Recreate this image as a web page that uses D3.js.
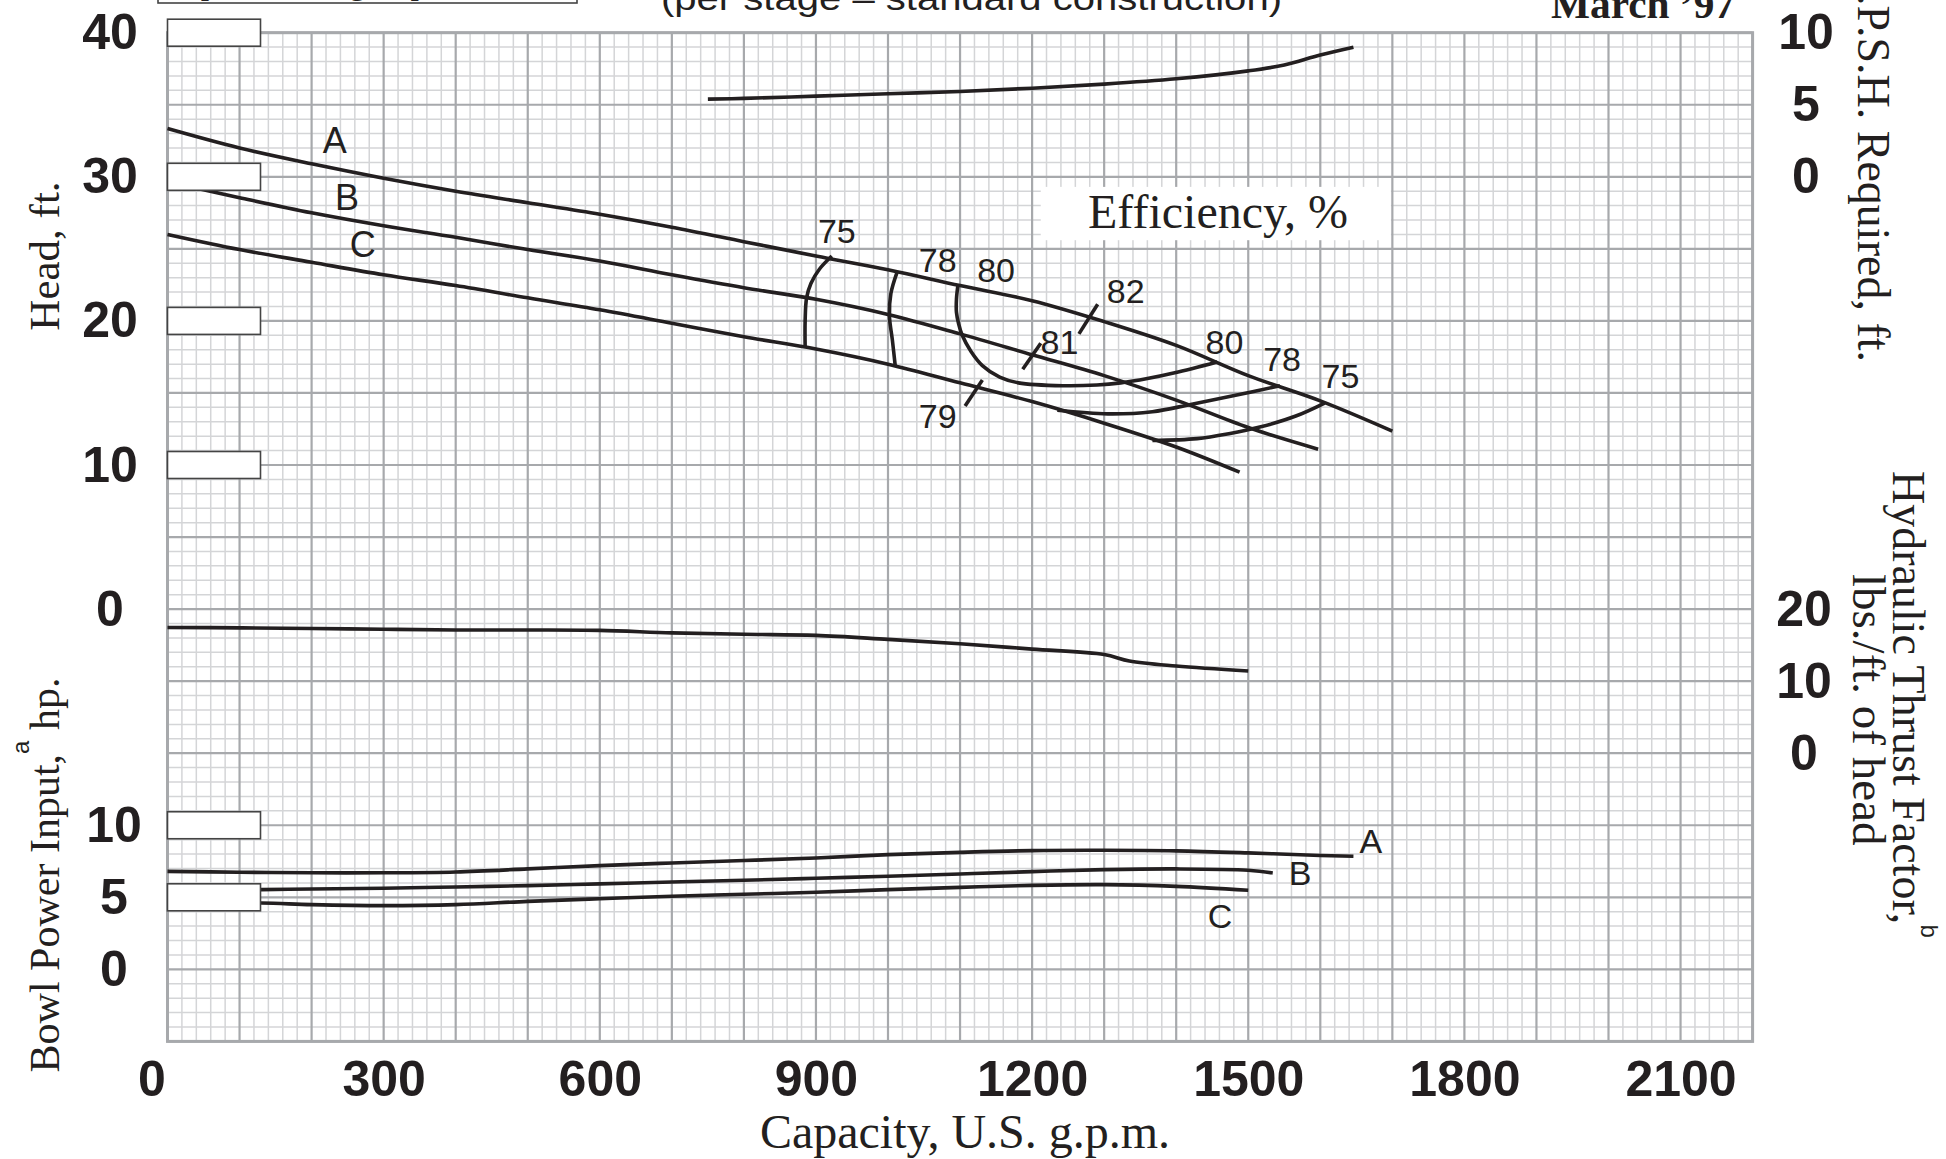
<!DOCTYPE html>
<html>
<head>
<meta charset="utf-8">
<script src="https://cdn.jsdelivr.net/npm/d3@7"></script>
<style>
body { margin: 0; background: #fff; }
svg { display: block; }
</style>
</head>
<body>
<svg id="chart" width="1946" height="1159"></svg>
<script>
// ticks
const capacityTicks = [0, 300, 600, 900, 1200, 1500, 1800, 2100];
const headTicks = [40, 30, 20, 10, 0];
const powerTicks = [10, 5, 0];
const npshTicks = [10, 5, 0];
const thrustTicks = [20, 10, 0];

// head curves [gpm, ft]
const headA = [[0, 33.35], [100, 32.0], [200, 30.9], [300, 29.9], [400, 29.0], [500, 28.2], [600, 27.4], [700, 26.5],
    [800, 25.5], [900, 24.5], [1000, 23.55], [1100, 22.45], [1200, 21.4], [1300, 19.95], [1400, 18.3], [1500, 16.2],
    [1600, 14.45], [1700, 12.35]];
const headB = [[0, 29.65], [100, 28.55], [200, 27.5], [300, 26.6], [400, 25.8], [500, 24.95], [600, 24.15], [700, 23.2],
    [800, 22.3], [900, 21.5], [1000, 20.45], [1100, 19.1], [1200, 17.65], [1300, 16.2], [1400, 14.5], [1500, 12.6],
    [1597, 11.1]];
const headC = [[0, 26.0], [100, 24.95], [200, 24.07], [300, 23.2], [400, 22.45], [500, 21.6], [600, 20.77], [700, 19.84],
    [800, 18.9], [900, 18.05], [1000, 17.0], [1100, 15.7], [1200, 14.4], [1300, 12.9], [1400, 11.25], [1488, 9.5]];

// N.P.S.H. required [gpm, ft]
const npsh = [[750, 5.39], [800, 5.44], [900, 5.6], [1000, 5.76], [1100, 5.92], [1200, 6.15], [1300, 6.43],
    [1400, 6.8], [1500, 7.35], [1550, 7.76], [1600, 8.45], [1646, 8.99]];

// hydraulic thrust factor [gpm, lbs/ft]
const thrust = [[0, 17.45], [100, 17.4], [200, 17.3], [300, 17.2], [400, 17.1], [500, 17.1], [600, 17.05],
    [700, 16.7], [800, 16.5], [900, 16.35], [1000, 15.8], [1100, 15.2], [1200, 14.45], [1300, 13.7],
    [1335, 12.8], [1400, 12.1], [1500, 11.4]];

// bowl power input [gpm, hp]
const powerA = [[0, 6.8], [100, 6.74], [200, 6.7], [300, 6.7], [400, 6.76], [500, 6.97], [600, 7.2], [700, 7.38],
    [800, 7.55], [900, 7.73], [1000, 7.96], [1100, 8.12], [1200, 8.24], [1300, 8.26], [1400, 8.22], [1500, 8.08],
    [1600, 7.9], [1646, 7.85]];
const powerB = [[0, 5.5], [130, 5.53], [200, 5.58], [300, 5.63], [400, 5.72], [500, 5.81], [600, 5.93], [700, 6.06],
    [800, 6.18], [900, 6.32], [1000, 6.46], [1100, 6.62], [1200, 6.78], [1300, 6.92], [1400, 6.97], [1500, 6.88],
    [1534, 6.69]];
const powerC = [[0, 4.62], [130, 4.6], [200, 4.49], [300, 4.42], [400, 4.49], [500, 4.72], [600, 4.9], [700, 5.07],
    [800, 5.21], [900, 5.35], [1000, 5.53], [1100, 5.69], [1200, 5.83], [1300, 5.88], [1400, 5.76], [1500, 5.49]];

// efficiency contours [gpm, ft of head]
const eff75L = [[922, 24.5], [905, 23.6], [893, 22.6], [887, 21.6], [885, 20.0], [885, 18.2]];
const eff78L = [[1013, 23.44], [1004, 21.9], [1002, 20.33], [1006, 18.7], [1010, 16.9]];
const eff80 = [[1097, 22.45], [1095, 21.5], [1095, 20.6], [1098, 19.8], [1103, 19.0], [1115, 17.9], [1131, 16.9],
    [1155, 16.1], [1181, 15.7], [1243, 15.5], [1290, 15.55], [1323, 15.7], [1360, 16.0], [1398, 16.4], [1457, 17.15]];
const eff78R = [[1235, 13.8], [1305, 13.55], [1367, 13.7], [1420, 14.2], [1479, 14.8], [1544, 15.5]];
const eff75R = [[1367, 11.7], [1429, 11.83], [1473, 12.17], [1516, 12.63], [1566, 13.4], [1606, 14.3]];
const eff82Mark = [[1291, 21.15], [1265, 19.1]];
const eff81Mark = [[1212, 18.45], [1187, 16.65]];
const eff79Mark = [[1131, 15.9], [1107, 14.1]];

// labels [text, gpm, value]
const headLabels = [["A", 232, 32.5], ["B", 249, 28.6], ["C", 271, 25.3]];
const effLabels = [["75", 929, 26.2], ["78", 1069, 24.2], ["80", 1150, 23.55], ["82", 1330, 22.05],
    ["81", 1238, 18.5], ["79", 1069, 13.4], ["80", 1467, 18.5], ["78", 1547, 17.35], ["75", 1628, 16.2]];
const powerLabels = [["A", 1670, 8.9], ["B", 1572, 6.65], ["C", 1461, 3.7]];

// blank label boxes on the left edge
const headBoxes = [40, 30, 20, 10];
const powerBoxes = [10, 5];

const ink = "#231f20";
const serif = "'Liberation Serif', 'Times New Roman', serif";
const sans = "'Liberation Sans', Arial, sans-serif";

const svg = d3.select("#chart");
svg.append("rect").attr("width", 1946).attr("height", 1159).attr("fill", "#fff");

const plotTop = 32.7, plotBottom = 1041.4;
const x = d3.scaleLinear().domain([0, 2200]).range([167.5, 1752.6]);
const yHead = d3.scaleLinear().domain([40, -30]).range([plotTop, plotBottom]);
const yNpsh = d3.scaleLinear().domain([10, -60]).range([plotTop, plotBottom]);
const yThrust = d3.scaleLinear().domain([100, -40]).range([plotTop, plotBottom]);
const yPower = d3.scaleLinear().domain([65, -5]).range([plotTop, plotBottom]);

// grid
const grid = svg.append("g").attr("class", "grid");

grid.selectAll("line.vminor")
    .data(d3.range(0, 2201, 20).filter(v => v % 100 !== 0))
    .enter().append("line")
    .attr("x1", d => x(d)).attr("x2", d => x(d))
    .attr("y1", plotTop).attr("y2", plotBottom)
    .attr("stroke", "#d4d5d7").attr("stroke-width", 1.5);

grid.selectAll("line.hminor")
    .data(d3.range(-30, 41, 1).filter(v => v % 5 !== 0))
    .enter().append("line")
    .attr("x1", x(0)).attr("x2", x(2200))
    .attr("y1", d => yHead(d)).attr("y2", d => yHead(d))
    .attr("stroke", "#d4d5d7").attr("stroke-width", 1.5);

grid.selectAll("line.vmajor")
    .data(d3.range(0, 2201, 100))
    .enter().append("line")
    .attr("x1", d => x(d)).attr("x2", d => x(d))
    .attr("y1", plotTop).attr("y2", plotBottom)
    .attr("stroke", "#a7a9ac").attr("stroke-width", 2.2);

grid.selectAll("line.hmajor")
    .data(d3.range(-30, 41, 5))
    .enter().append("line")
    .attr("x1", x(0)).attr("x2", x(2200))
    .attr("y1", d => yHead(d)).attr("y2", d => yHead(d))
    .attr("stroke", "#a7a9ac").attr("stroke-width", 2.2);

grid.append("rect")
    .attr("x", x(0)).attr("y", plotTop)
    .attr("width", x(2200) - x(0)).attr("height", plotBottom - plotTop)
    .attr("fill", "none").attr("stroke", "#a7a9ac").attr("stroke-width", 3);

// curves
function drawCurve(points, yScale, curve) {
    const line = d3.line()
        .x(d => x(d[0]))
        .y(d => yScale(d[1]))
        .curve(curve || d3.curveCatmullRom.alpha(0.5));
    svg.append("path")
        .datum(points)
        .attr("d", line)
        .attr("fill", "none")
        .attr("stroke", ink)
        .attr("stroke-width", 3.6)
        .attr("stroke-linecap", "butt");
}

[headA, headB, headC].forEach(c => drawCurve(c, yHead));
[eff75L, eff78L, eff80, eff78R, eff75R].forEach(c => drawCurve(c, yHead));
[eff82Mark, eff81Mark, eff79Mark].forEach(c => drawCurve(c, yHead, d3.curveLinear));
drawCurve(npsh, yNpsh);
drawCurve(thrust, yThrust);
[powerA, powerB, powerC].forEach(c => drawCurve(c, yPower));

// blank boxes
function drawBoxes(values, yScale) {
    svg.append("g").selectAll("rect")
        .data(values)
        .enter().append("rect")
        .attr("x", x(0))
        .attr("y", d => yScale(d) - 13.5)
        .attr("width", 93)
        .attr("height", 27)
        .attr("fill", "#fff")
        .attr("stroke", "#444")
        .attr("stroke-width", 1.6);
}
drawBoxes(headBoxes, yHead);
drawBoxes(powerBoxes, yPower);

// efficiency caption
svg.append("rect")
    .attr("x", x(1212)).attr("y", yHead(29.3))
    .attr("width", x(1698) - x(1212)).attr("height", yHead(25.6) - yHead(29.3))
    .attr("fill", "#fff");
svg.append("text")
    .attr("x", x(1458)).attr("y", yHead(26.45))
    .attr("text-anchor", "middle")
    .style("font-family", serif).style("font-size", "48px").attr("fill", ink)
    .text("Efficiency, %");

// curve labels
function drawLabels(labels, yScale, size) {
    svg.append("g").selectAll("text")
        .data(labels)
        .enter().append("text")
        .attr("x", d => x(d[1]))
        .attr("y", d => yScale(d[2]))
        .attr("dy", "0.35em")
        .attr("text-anchor", "middle")
        .style("font-family", sans).style("font-size", size + "px")
        .attr("fill", ink)
        .text(d => d[0]);
}
drawLabels(headLabels, yHead, 36);
drawLabels(effLabels, yHead, 34);
drawLabels(powerLabels, yPower, 34);

// axes
function styleTicks(sel, xPos) {
    sel.select(".domain").remove();
    sel.selectAll("text")
        .attr("x", xPos)
        .attr("text-anchor", "middle")
        .style("font-family", sans)
        .style("font-size", "50px")
        .style("font-weight", "bold")
        .attr("fill", ink);
}

svg.append("g")
    .attr("transform", `translate(${x(0)},0)`)
    .call(d3.axisLeft(yHead).tickValues(headTicks).tickSize(0))
    .call(g => styleTicks(g, 110 - x(0)));

svg.append("g")
    .attr("transform", `translate(${x(0)},0)`)
    .call(d3.axisLeft(yPower).tickValues(powerTicks).tickSize(0))
    .call(g => styleTicks(g, 114 - x(0)));

svg.append("g")
    .attr("transform", `translate(${x(2200)},0)`)
    .call(d3.axisRight(yNpsh).tickValues(npshTicks).tickSize(0))
    .call(g => styleTicks(g, 1806 - x(2200)));

svg.append("g")
    .attr("transform", `translate(${x(2200)},0)`)
    .call(d3.axisRight(yThrust).tickValues(thrustTicks).tickSize(0))
    .call(g => styleTicks(g, 1804 - x(2200)));

const xAxis = svg.append("g")
    .attr("transform", `translate(0,${plotBottom})`)
    .call(d3.axisBottom(x).tickValues(capacityTicks).tickFormat(d3.format("d")).tickSize(0).tickPadding(19));
xAxis.select(".domain").remove();
xAxis.selectAll("text")
    .style("font-family", sans)
    .style("font-size", "50px")
    .style("font-weight", "bold")
    .attr("fill", ink)
    .attr("dx", d => d === 0 ? -16 : 0);

// axis titles
svg.append("text")
    .attr("transform", "translate(59,256) rotate(-90)")
    .attr("text-anchor", "middle")
    .style("font-family", serif).style("font-size", "43px").attr("fill", ink)
    .text("Head, ft.");

const powerTitle = svg.append("text")
    .attr("transform", "translate(59,875) rotate(-90)")
    .attr("text-anchor", "middle")
    .style("font-family", serif).style("font-size", "42px").attr("fill", ink);
powerTitle.append("tspan").text("Bowl Power Input,");
powerTitle.append("tspan").attr("dy", -30).style("font-size", "24px").style("font-family", sans).text("a");
powerTitle.append("tspan").attr("dy", 30).text(" hp.");

svg.append("text")
    .attr("x", 965).attr("y", 1148)
    .attr("text-anchor", "middle")
    .style("font-family", serif).style("font-size", "48px").attr("fill", ink)
    .text("Capacity, U.S. g.p.m.");

svg.append("text")
    .attr("transform", "translate(1858,362) rotate(90)")
    .attr("text-anchor", "end")
    .style("font-family", serif).style("font-size", "46px").attr("fill", ink)
    .text("N.P.S.H. Required, ft.");

const thrustTitle = svg.append("text")
    .attr("transform", "translate(1893,471) rotate(90)")
    .style("font-family", serif).style("font-size", "46px").attr("fill", ink);
thrustTitle.append("tspan").text("Hydraulic Thrust Factor,");
thrustTitle.append("tspan").attr("dy", -28).style("font-size", "24px").style("font-family", sans).text("b");

svg.append("text")
    .attr("transform", "translate(1853,574) rotate(90)")
    .style("font-family", serif).style("font-size", "47px").attr("fill", ink)
    .text("lbs./ft. of head");

// header, cut off by the top edge of the sheet
svg.append("rect")
    .attr("x", 158).attr("y", -40).attr("width", 419).attr("height", 43)
    .attr("fill", "none").attr("stroke", "#444").attr("stroke-width", 1.6);
svg.append("text")
    .attr("x", 367).attr("y", -6)
    .attr("text-anchor", "middle")
    .style("font-family", serif).style("font-size", "34px").attr("fill", ink)
    .text("Impeller Design Specification");

svg.append("text")
    .attr("x", 661).attr("y", 10)
    .attr("textLength", 621).attr("lengthAdjust", "spacingAndGlyphs")
    .style("font-family", sans).style("font-size", "34px").attr("fill", ink)
    .text("(per stage \u2013 standard construction)");

svg.append("text")
    .attr("x", 1551).attr("y", 18)
    .attr("textLength", 184).attr("lengthAdjust", "spacingAndGlyphs")
    .style("font-family", serif).style("font-size", "40px").style("font-weight", "bold").attr("fill", ink)
    .text("March \u201997");
</script>
</body>
</html>
